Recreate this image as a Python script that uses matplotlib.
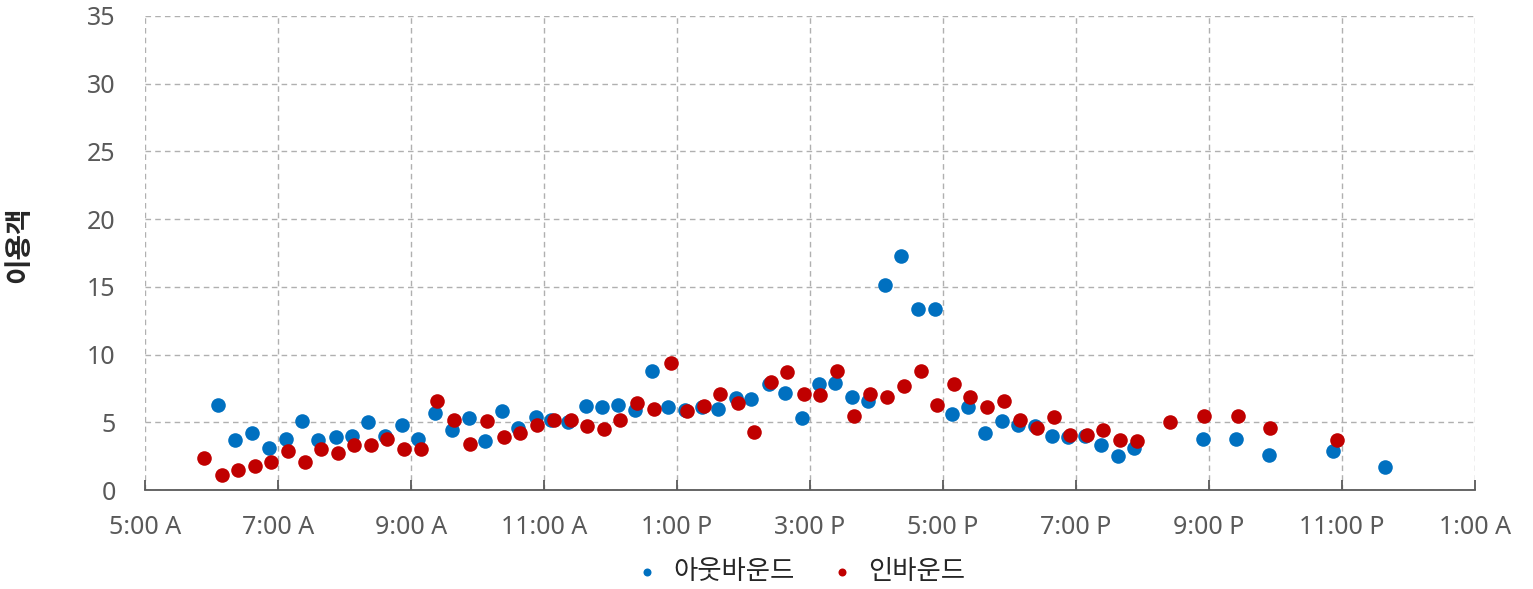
import matplotlib.pyplot as plt
from matplotlib.ticker import FuncFormatter

plt.rcParams['font.family'] = ['Noto Sans', 'Noto Sans CJK KR', 'DejaVu Sans']

# hours of day (24+ means after midnight)
out_hours = [6.10, 6.35, 6.61, 6.86, 7.12, 7.36, 7.60, 7.87, 8.11, 8.35, 8.61, 8.86,
             9.11, 9.36, 9.62, 9.87, 10.11, 10.37, 10.61, 10.88, 11.11, 11.36, 11.63,
             11.87, 12.11, 12.37, 12.62, 12.86, 13.12, 13.38, 13.62, 13.89, 14.11,
             14.38, 14.62, 14.88, 15.14, 15.38, 15.63, 15.87, 16.13, 16.37, 16.62,
             16.88, 17.14, 17.38, 17.63, 17.89, 18.13, 18.38, 18.64, 18.88, 19.14,
             19.38, 19.63, 19.87, 20.91, 21.41, 21.90, 22.86, 23.65]
out_vals = [6.3, 3.7, 4.2, 3.1, 3.8, 5.1, 3.7, 3.9, 4.0, 5.0, 4.0, 4.8,
            3.8, 5.7, 4.4, 5.3, 3.6, 5.8, 4.6, 5.4, 5.2, 5.0, 6.2,
            6.1, 6.3, 5.9, 8.8, 6.1, 5.9, 6.1, 6.0, 6.8, 6.7,
            7.8, 7.2, 5.3, 7.8, 7.9, 6.9, 6.6, 15.1, 17.3, 13.4,
            13.4, 5.6, 6.1, 4.2, 5.1, 4.8, 4.7, 4.0, 3.9, 4.0,
            3.3, 2.5, 3.1, 3.8, 3.8, 2.6, 2.9, 1.7]

in_hours = [5.89, 6.16, 6.40, 6.65, 6.89, 7.15, 7.41, 7.65, 7.90, 8.14, 8.40, 8.64,
            8.89, 9.15, 9.39, 9.65, 9.89, 10.14, 10.40, 10.64, 10.89, 11.15, 11.41,
            11.65, 11.90, 12.14, 12.40, 12.65, 12.91, 13.15, 13.41, 13.65, 13.92,
            14.16, 14.41, 14.65, 14.91, 15.15, 15.41, 15.66, 15.90, 16.16, 16.41,
            16.67, 16.91, 17.17, 17.41, 17.66, 17.92, 18.16, 18.41, 18.67, 18.91,
            19.17, 19.41, 19.66, 19.92, 20.41, 20.92, 21.44, 21.92, 22.92]
in_vals = [2.4, 1.1, 1.5, 1.8, 2.1, 2.9, 2.1, 3.0, 2.7, 3.3, 3.3, 3.8,
           3.0, 3.0, 6.6, 5.2, 3.4, 5.1, 3.9, 4.2, 4.8, 5.2, 5.2,
           4.7, 4.5, 5.2, 6.4, 6.0, 9.4, 5.8, 6.2, 7.1, 6.4,
           4.3, 8.0, 8.7, 7.1, 7.0, 8.8, 5.5, 7.1, 6.9, 7.7,
           8.8, 6.3, 7.8, 6.9, 6.1, 6.6, 5.2, 4.6, 5.4, 4.1,
           4.1, 4.4, 3.7, 3.6, 5.0, 5.5, 5.5, 4.6, 3.7]


def hour_label(h, pos):
    h = int(round(h)) % 24
    suffix = 'A' if h < 12 else 'P'
    h12 = h % 12
    if h12 == 0:
        h12 = 12
    return f'{h12}:00 {suffix}'


fig = plt.figure(figsize=(15.33, 5.89), dpi=100)
ax = fig.add_axes([0.0946, 0.168, 0.8675, 0.805])

ax.scatter(out_hours, out_vals, s=110, color='#0070C0', label='아웃바운드', zorder=3, linewidths=0)
ax.scatter(in_hours, in_vals, s=110, color='#C00000', label='인바운드', zorder=3, linewidths=0)

ax.set_xlim(5, 25)
ax.set_ylim(0, 35)
ax.set_xticks(range(5, 26, 2))
ax.set_yticks(range(0, 36, 5))
ax.xaxis.set_major_formatter(FuncFormatter(hour_label))

ax.grid(True, linestyle=(0, (4, 3)), color='#B0B0B0', linewidth=1)
ax.set_axisbelow(True)
for side in ['left', 'right', 'top']:
    ax.spines[side].set_visible(False)
ax.spines['bottom'].set_color('#595959')
ax.spines['bottom'].set_linewidth(1.3)

ax.tick_params(axis='y', length=0, pad=21, labelsize=18, labelcolor='#595959')
ax.tick_params(axis='x', direction='in', length=7, width=1.3, color='#595959', pad=18,
               labelsize=18, labelcolor='#595959')

fig.text(19 / 1533, 0.585, '이용객', rotation=90, ha='center', va='center',
         fontsize=20, fontweight='bold', color='#262626',
         family=['Noto Sans CJK KR', 'DejaVu Sans'])

ax.legend(loc='center', bbox_to_anchor=(0.487, -0.172), ncol=2, frameon=False,
          prop={'family': ['Noto Sans CJK KR', 'DejaVu Sans'], 'size': 19},
          markerscale=0.55, handletextpad=0.0, columnspacing=0.8, labelcolor='#262626')

fig.savefig('out.png', dpi=100)
